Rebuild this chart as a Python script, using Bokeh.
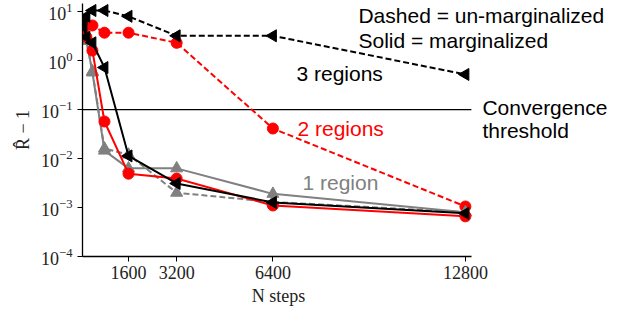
from bokeh.plotting import figure
from bokeh.models import Range1d, Label, FixedTicker
from bokeh.embed import file_html
from bokeh.resources import INLINE

steps = [100, 200, 400, 800, 1600, 3200, 6400, 12800]

# un-marginalized (dashed)
r1_dashed = [3.0, 2.5, 0.6, 0.016, 0.012, 0.002, 0.0013, 0.0008]
r2_dashed = [6.5, 5.4, 5.2, 3.7, 3.7, 2.3, 0.041, 0.00105]
r3_dashed = [6.0, 8.0, 10.5, 10.5, 8.0, 3.2, 3.2, 0.52]
# marginalized (solid)
r1_solid = [3.0, 2.6, 0.57, 0.0145, 0.0063, 0.0063, 0.0019, 0.0008]
r2_solid = [4.5, 3.0, 1.6, 0.057, 0.0049, 0.0039, 0.0011, 0.00066]
r3_solid = [5.0, 3.0, 2.3, 0.72, 0.0113, 0.0031, 0.00127, 0.00076]

threshold = 0.1
x_ticks = [1600, 3200, 6400, 12800]
y_ticks = [1e-4, 1e-3, 1e-2, 1e-1, 1e0, 1e1]
X_MIN, X_MAX = 70, 13000
Y_MIN, Y_MAX = 1e-4, 14.6

GRAY = "#808080"
RED = "#ff0000"
BLACK = "#000000"
SERIF = "Liberation Serif"
SANS = "Liberation Sans"

p = figure(frame_width=536, frame_height=253, y_axis_type="log", output_backend="svg",
           toolbar_location=None, x_range=Range1d(X_MIN, 17890),
           y_range=Range1d(Y_MIN, Y_MAX), min_border_left=82, min_border_right=0,
           min_border_top=3, min_border_bottom=52)
p.outline_line_color = None
p.grid.visible = False
p.background_fill_color = "white"
p.border_fill_color = "white"

# convergence threshold line
p.line([X_MIN, X_MAX], [threshold, threshold], line_color="black", line_width=1.3)

def series(ys, col, dash):
    if dash:
        p.line(steps, ys, line_color=col, line_width=2, line_dash="6 3")
    else:
        p.line(steps, ys, line_color=col, line_width=2)
    if col == GRAY:
        p.scatter(steps, ys, marker="triangle", size=12, color=col)
    elif col == RED:
        p.scatter(steps, ys, marker="circle", size=11, color=col)
    else:
        p.scatter(steps, ys, marker="triangle", angle=1.5708, size=12, color=col)

for ys, col in [(r1_dashed, GRAY), (r2_dashed, RED), (r3_dashed, BLACK)]:
    series(ys, col, True)
for ys, col in [(r1_solid, GRAY), (r2_solid, RED), (r3_solid, BLACK)]:
    series(ys, col, False)

# axes
p.xaxis.ticker = FixedTicker(ticks=x_ticks)
p.yaxis.ticker = FixedTicker(ticks=y_ticks)
p.xaxis.bounds = (X_MIN, X_MAX)
for ax in (p.xaxis, p.yaxis):
    ax.minor_tick_line_color = None
    ax.major_tick_in = 0
    ax.major_tick_out = 5
    ax.major_label_text_font = SERIF
    ax.major_label_text_font_size = "18px"
    ax.major_label_text_color = "#222222"
    ax.axis_label_text_font = SERIF
    ax.axis_label_text_font_size = "18px"
    ax.axis_label_text_font_style = "normal"
    ax.axis_label_text_color = "#222222"
    ax.axis_line_width = 1.3
# trailing em spaces shift the centred label under the visible axis span
p.xaxis.axis_label = "N steps" + "\u2003" * 8
p.yaxis.axis_label = "R\u0302 \u2212 1"
p.xaxis.major_label_standoff = 4
p.xaxis.axis_label_standoff = 4

def lab(x, y, text, color, size="21px"):
    p.add_layout(Label(x=x, y=y, text=text, text_color=color, text_font=SANS,
                       text_font_size=size, text_baseline="middle", text_align="left"))

lab(9244, 8.3, "Dashed = un-marginalized", BLACK)
lab(9244, 2.56, "Solid = marginalized", BLACK)
lab(7183, 0.543, "3 regions", BLACK)
lab(13366, 0.11, "Convergence", BLACK)
lab(13366, 0.037, "threshold", BLACK)
lab(7216, 0.041, "2 regions", RED)
lab(7383, 0.0032, "1 region", GRAY)

open("out.html", "w").write(file_html(p, INLINE))
